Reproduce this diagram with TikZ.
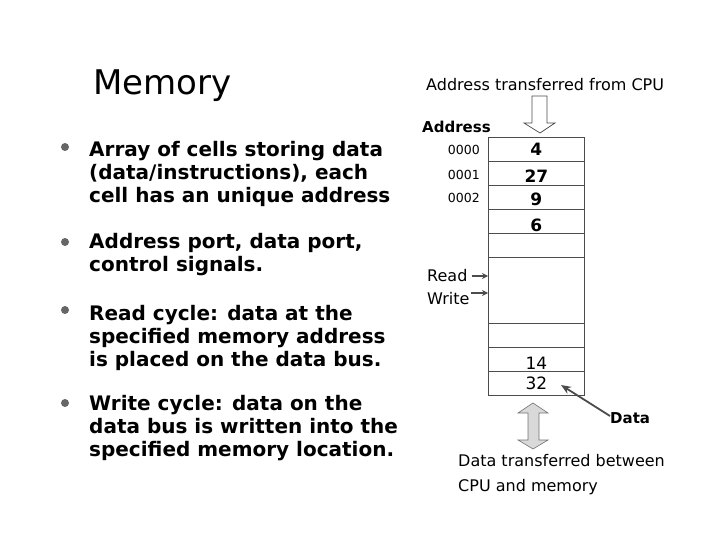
\documentclass[tikz,border=0pt]{standalone}
\usepackage{fontspec}
\setmainfont{DejaVu Sans}
\usetikzlibrary{arrows.meta}
\newcommand{\blines}[1]{\begin{tabular}[t]{@{}l@{}}#1\end{tabular}}
\begin{document}
\begin{tikzpicture}[x=1pt,y=-1pt,
  cell/.style={draw=black!70,line width=0.7pt,minimum width=96pt,minimum height=24pt,inner sep=0pt,anchor=north west},
  val/.style={font=\fontsize{17}{20}\selectfont\bfseries},
  bul/.style={anchor=base west,inner sep=0pt,font=\fontsize{20}{23}\selectfont\bfseries},
  dot/.style={circle,fill=black!60,inner sep=0pt,minimum size=8pt},
  small/.style={inner sep=0pt,font=\fontsize{16}{18}\selectfont},
  sig/.style={-{Stealth[length=6pt,width=6pt]},draw=black!70,line width=1.8pt}]
\useasboundingbox (0,0) rectangle (720,540);
% title
\node[inner sep=0pt,anchor=base west,font=\fontsize{34}{40}\selectfont] (title) at (93,95) {Memory};
% bullets
\node[dot] (b1) at (65,147) {};
\node[bul] (t1) at (89,157) {\blines{Array of cells storing data\\(data/instructions), each\\cell has an unique address}};
\node[dot] (b2) at (65,242) {};
\node[bul] (t2) at (89,248) {\blines{Address port, data port,\\control signals.}};
\node[dot] (b3) at (65,310) {};
\node[bul] (t3) at (89,320) {\blines{Read cycle: data at the\\specified memory address\\is placed on the data bus.}};
\node[dot] (b4) at (65,403) {};
\node[bul] (t4) at (89,410) {\blines{Write cycle: data on the\\data bus is written into the\\specified memory location.}};
% memory cells
\node[cell] (c1) at (488,137) {};
\node[cell] (c2) at (488,161) {};
\node[cell] (c3) at (488,185) {};
\node[cell] (c4) at (488,209) {};
\node[cell] (c5) at (488,233) {};
\node[cell,minimum height=66pt] (c6) at (488,257) {};
\node[cell] (c7) at (488,323) {};
\node[cell] (c8) at (488,347) {};
\node[cell] (c9) at (488,371) {};
\node[val] at (c1) {4};
\node[val] at ([yshift=-3pt]c2) {27};
\node[val] at ([yshift=-2pt]c3) {9};
\node[val] at ([yshift=-4pt]c4) {6};
\node[font=\fontsize{17}{20}\selectfont] at ([yshift=-4pt]c8) {14};
\node[font=\fontsize{17}{20}\selectfont] at (c9) {32};
% addresses
\node[inner sep=0pt,anchor=base west,font=\fontsize{15}{18}\selectfont\bfseries] (addr) at (422,133) {Address};
\node[inner sep=0pt,anchor=east,font=\fontsize{12.5}{14}\selectfont] (a0) at (480,150) {0000};
\node[inner sep=0pt,anchor=east,font=\fontsize{12.5}{14}\selectfont] (a1) at (480,175) {0001};
\node[inner sep=0pt,anchor=east,font=\fontsize{12.5}{14}\selectfont] (a2) at (480,198) {0002};
% address arrow
\node[small,anchor=west] (atx) at (426,85) {Address transferred from CPU};
\draw[draw=black!70,fill=white,line width=0.7pt] (532,96) -- (547,96) -- (547,123) -- (555,123) -- (540,133) -- (524,123) -- (532,123) -- cycle;
% read / write
\node[small,anchor=west] (rd) at (427,276) {Read};
\node[small,anchor=west] (wr) at (427,299) {Write};
\coordinate (rdend) at (488,276);
\coordinate (wrend) at (488,293);
\draw[sig] ([xshift=4pt]rd.east |- rdend) -- (rdend);
\draw[sig] ([xshift=1pt]wr.east |- wrend) -- (wrend);
% data
\node[small,font=\fontsize{15}{18}\selectfont\bfseries,anchor=west] (dat) at (610,418) {Data};
\coordinate (dend) at (561,385);
\draw[-{Stealth[length=10pt,width=8pt]},draw=black!70,line width=1.8pt] ([yshift=2pt]dat.west) -- (dend);
\draw[draw=black!55,fill=black!15,line width=0.6pt] (533,403) -- (548,413) -- (539,413) -- (539,440) -- (548,440) -- (533,449) -- (518,440) -- (528,440) -- (528,413) -- (518,413) -- cycle;
\node[small,anchor=west] (dtx1) at (458,461) {Data transferred between};
\node[small,anchor=west] (dtx2) at (458,487) {CPU and memory};
\end{tikzpicture}
\end{document}
